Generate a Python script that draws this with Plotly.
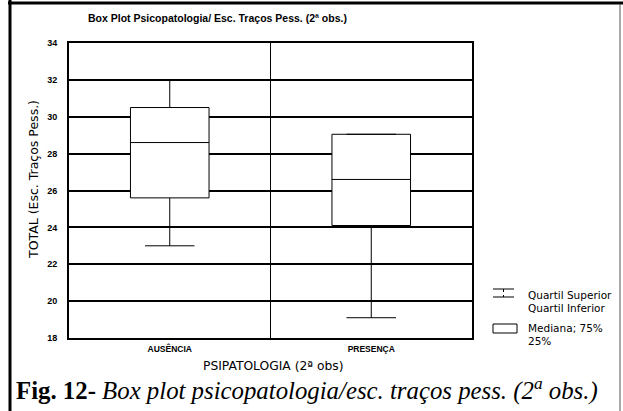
import plotly.graph_objects as go

# ---- data ----
categories = ["AUSÊNCIA", "PRESENÇA"]
lower_whisker = [23.0, 19.1]
quartil_inferior = [25.6, 24.1]
mediana = [28.6, 26.6]
quartil_superior = [30.5, 29.05]
upper_whisker = [32.0, 29.05]
y_ticks = [18, 20, 22, 24, 26, 28, 30, 32, 34]

W, H = 623, 411
L, R, T, B = 69, 151, 43, 73
PW, PH = W - L - R, H - T - B


def px(x):
    return (x - L) / PW


def py(y):
    return (H - B - y) / PH


fig = go.Figure()
fig.add_trace(go.Box(
    x=categories,
    q1=quartil_inferior,
    median=mediana,
    q3=quartil_superior,
    lowerfence=lower_whisker,
    upperfence=upper_whisker,
    fillcolor="white",
    line=dict(color="black", width=1),
    whiskerwidth=0.63,
    width=0.39,
    boxpoints=False,
    hoverinfo="skip",
    showlegend=False,
))

font_sans = "Liberation Sans, Arial, sans-serif"
font_wide = "DejaVu Sans, Verdana, sans-serif"
font_serif = "Liberation Serif, Times New Roman, serif"

fig.update_layout(
    width=W, height=H,
    margin=dict(l=L, r=R, t=T, b=B, pad=0),
    paper_bgcolor="white",
    plot_bgcolor="white",
    showlegend=False,
    xaxis=dict(
        type="category",
        range=[-0.5, 1.5],
        tickson="boundaries",
        showgrid=True, gridcolor="black", gridwidth=1,
        showline=True, linecolor="black", linewidth=2, mirror=True,
        ticks="", ticklen=0,
        ticklabelstandoff=2,
        tickfont=dict(family=font_sans, size=8.5, color="black", weight="bold"),
        zeroline=False,
    ),
    yaxis=dict(
        range=[18, 34],
        tickvals=y_ticks,
        showgrid=True, gridcolor="black", gridwidth=1.5,
        showline=True, linecolor="black", linewidth=2, mirror=True,
        ticks="", ticklen=0,
        ticklabelstandoff=8,
        tickfont=dict(family=font_sans, size=9, color="black", weight="bold"),
        zeroline=False,
    ),
)

annotations = [
    # title
    dict(text="Box Plot Psicopatologia/ Esc. Traços Pess. (2ª obs.)",
         x=px(86), y=py(18), xanchor="left", yanchor="middle",
         font=dict(family=font_sans, size=10.5, color="black", weight="bold")),
    # y-axis title
    dict(text="TOTAL (Esc. Traços Pess.)", textangle=-90,
         x=px(33), y=py(180), xanchor="center", yanchor="middle",
         font=dict(family=font_wide, size=12.5, color="black")),
    # x-axis title
    dict(text="PSIPATOLOGIA (2ª obs)",
         x=px(273), y=py(366), xanchor="center", yanchor="middle",
         font=dict(family=font_wide, size=12.3, color="black")),
    # legend texts
    dict(text="Quartil Superior", x=px(526), y=py(295), xanchor="left", yanchor="middle",
         font=dict(family=font_wide, size=10.5, color="black")),
    dict(text="Quartil Inferior", x=px(526), y=py(308), xanchor="left", yanchor="middle",
         font=dict(family=font_wide, size=10.5, color="black")),
    dict(text="Mediana; 75%", x=px(526), y=py(328), xanchor="left", yanchor="middle",
         font=dict(family=font_wide, size=10.5, color="black")),
    dict(text="25%", x=px(526), y=py(341), xanchor="left", yanchor="middle",
         font=dict(family=font_wide, size=10.5, color="black")),
    # caption
    dict(text="<b>Fig. 12-</b> <i>Box plot psicopatologia/esc. traços pess. (2<sup>a</sup> obs.)</i>",
         x=px(14), y=py(389), xanchor="left", yanchor="middle",
         font=dict(family=font_serif, size=24.8, color="black")),
]
for a in annotations:
    a.update(xref="paper", yref="paper", showarrow=False)
fig.update_layout(annotations=annotations)

shapes = [
    # frame
    dict(type="line", x0=px(8), x1=px(623), y0=py(3), y1=py(3), line=dict(color="black", width=3)),
    dict(type="line", x0=px(10), x1=px(10), y0=py(0), y1=py(411), line=dict(color="black", width=3)),
    dict(type="line", x0=px(620), x1=px(620), y0=py(4), y1=py(411), line=dict(color="#555", width=1)),
    # legend icon: whisker
    dict(type="line", x0=px(493), x1=px(514), y0=py(289), y1=py(289), line=dict(color="black", width=1)),
    dict(type="line", x0=px(493), x1=px(514), y0=py(297), y1=py(297), line=dict(color="black", width=1)),
    dict(type="line", x0=px(503.5), x1=px(503.5), y0=py(289), y1=py(297), line=dict(color="black", width=1, dash="dot")),
    # legend icon: box
    dict(type="rect", x0=px(493), x1=px(517), y0=py(324), y1=py(333), line=dict(color="black", width=1)),
]
for s in shapes:
    s.update(xref="paper", yref="paper", layer="above")
fig.update_layout(shapes=shapes)

fig.write_html(
    "out.html",
    config={"displayModeBar": False},
    post_script="document.body.style.margin='0';document.body.style.padding='0';",
)
